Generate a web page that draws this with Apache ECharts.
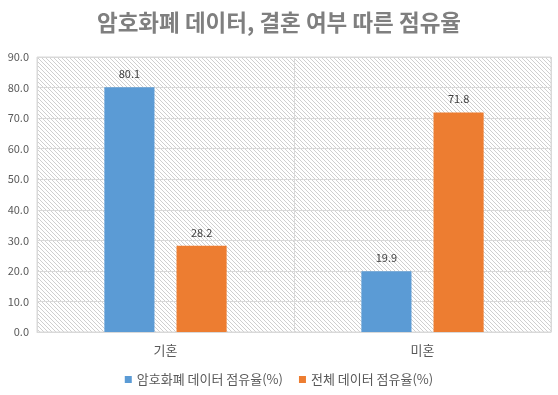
<!DOCTYPE html>
<html><head><meta charset="utf-8">
<script src="https://cdn.jsdelivr.net/npm/echarts@6/dist/echarts.min.js"></script>
<style>html,body{margin:0;padding:0;background:#fff}#c{width:558px;height:395px}</style>
</head><body><div id="c"></div>
<script>
const titleText = '암호화폐 데이터, 결혼 여부 따른 점유율';
const categories = ['기혼', '미혼'];
const seriesNames = ['암호화폐 데이터 점유율(%)', '전체 데이터 점유율(%)'];
const cryptoShare = [80.1, 19.9];
const totalShare = [28.2, 71.8];

const pc = document.createElement('canvas');
pc.width = 4; pc.height = 4;
const g = pc.getContext('2d');
g.strokeStyle = '#cfcfcf';
g.lineWidth = 1;
g.beginPath();
g.moveTo(-1, -1); g.lineTo(5, 5);
g.moveTo(-1, 3); g.lineTo(1, 5);
g.moveTo(3, -1); g.lineTo(5, 1);
g.stroke();

const font = "'Noto Sans CJK KR', 'Noto Sans', sans-serif";
const chart = echarts.init(document.getElementById('c'), null, {renderer: 'canvas'});
chart.setOption({
  animation: false,
  textStyle: {fontFamily: font},
  title: {
    text: titleText, left: 'center', top: 6,
    textStyle: {fontSize: 22.5, fontWeight: 'bold', color: '#7f7f7f', fontFamily: font}
  },
  grid: {
    left: 37, right: 7, top: 57, bottom: 63, show: true,
    backgroundColor: {image: pc, repeat: 'repeat'},
    borderColor: '#d9d9d9', borderWidth: 1
  },
  legend: {
    bottom: 4, left: 'center', itemWidth: 7, itemHeight: 7, itemGap: 16,
    icon: 'rect',
    textStyle: {fontSize: 13, color: '#595959', fontFamily: font},
    data: seriesNames
  },
  xAxis: {
    type: 'category', data: categories,
    axisLine: {lineStyle: {color: '#d9d9d9'}},
    axisTick: {show: false},
    axisLabel: {fontSize: 13, color: '#595959', margin: 12},
    splitLine: {show: true, lineStyle: {color: '#d9d9d9'}}
  },
  yAxis: {
    type: 'value', min: 0, max: 90, interval: 10,
    axisLine: {show: false}, axisTick: {show: false},
    axisLabel: {fontSize: 11, color: '#595959', margin: 8, formatter: v => v.toFixed(1)},
    splitLine: {lineStyle: {color: '#d9d9d9'}}
  },
  series: [
    {
      name: seriesNames[0], type: 'bar', data: cryptoShare,
      barWidth: '19.5%', barGap: '44%',
      itemStyle: {color: '#5b9bd5'},
      label: {show: true, position: 'top', distance: 8, fontSize: 11, color: '#404040', formatter: p => p.value.toFixed(1)}
    },
    {
      name: seriesNames[1], type: 'bar', data: totalShare,
      barWidth: '19.5%', barGap: '44%',
      itemStyle: {color: '#ed7d31'},
      label: {show: true, position: 'top', distance: 8, fontSize: 11, color: '#404040', formatter: p => p.value.toFixed(1)}
    }
  ]
});
</script></body></html>
